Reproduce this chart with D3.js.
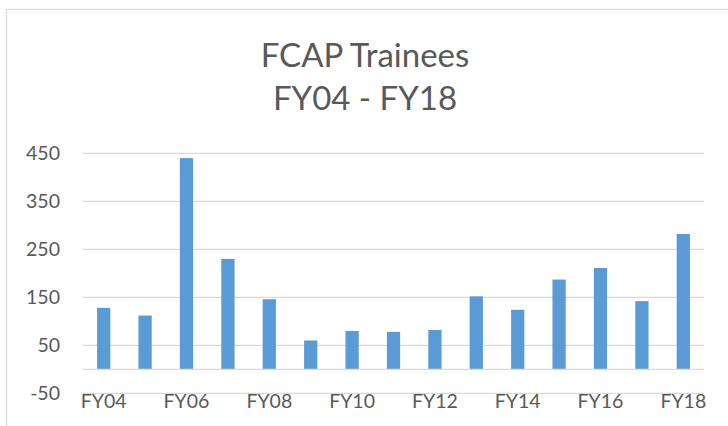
<!DOCTYPE html>
<html lang="en">
<head>
    <meta charset="UTF-8">
    <title>FCAP Trainees</title>
    <script src="https://d3js.org/d3.v7.min.js"></script>
    <style>
        body { margin: 0; background: #fff; }
        svg text { font-family: Lato, "Open Sans", sans-serif; fill: #595959; }
    </style>
</head>
<body>
    <div id="chart"></div>
    <script>
        // data
        const years = ["FY04", "FY05", "FY06", "FY07", "FY08", "FY09", "FY10", "FY11",
                       "FY12", "FY13", "FY14", "FY15", "FY16", "FY17", "FY18"];
        const trainees = [128, 112, 440, 230, 146, 60, 80, 78, 82, 152, 124, 187, 211, 142, 282];
        const yTicks = [-50, 50, 150, 250, 350, 450];
        const titleLines = ["FCAP Trainees", "FY04 - FY18"];

        const width = 728, height = 426;
        const plot = { left: 83, right: 704, top: 153.3, bottom: 393.3 };

        const svg = d3.select("#chart").append("svg")
            .attr("width", width)
            .attr("height", height);

        // chart frame
        svg.append("rect")
            .attr("x", 6.5).attr("y", 9.5)
            .attr("width", width + 10).attr("height", height + 10)
            .attr("fill", "#fff")
            .attr("stroke", "#d9d9d9")
            .attr("stroke-width", 1.3);

        const x = d3.scaleBand()
            .domain(years)
            .range([plot.left, plot.right])
            .paddingInner(0.68)
            .paddingOuter(0.34);

        const y = d3.scaleLinear()
            .domain([-50, 450])
            .range([plot.bottom, plot.top]);

        // gridlines
        svg.append("g")
            .selectAll("line")
            .data(yTicks)
            .join("line")
            .attr("x1", plot.left).attr("x2", plot.right)
            .attr("y1", d => y(d)).attr("y2", d => y(d))
            .attr("stroke", "#d9d9d9")
            .attr("stroke-width", 1.3);

        // y labels
        svg.append("g")
            .selectAll("text")
            .data(yTicks)
            .join("text")
            .attr("x", 60)
            .attr("y", d => y(d))
            .attr("dy", "0.36em")
            .attr("text-anchor", "end")
            .attr("font-size", 19.5)
            .text(d => d);

        // bars
        svg.append("g")
            .attr("fill", "#5b9bd5")
            .selectAll("rect")
            .data(trainees)
            .join("rect")
            .attr("x", (d, i) => x(years[i]))
            .attr("width", x.bandwidth())
            .attr("y", d => y(d))
            .attr("height", d => y(0) - y(d));

        // category axis line at zero
        svg.append("line")
            .attr("x1", plot.left).attr("x2", plot.right)
            .attr("y1", y(0)).attr("y2", y(0))
            .attr("stroke", "#d9d9d9")
            .attr("stroke-width", 1.3);

        // x labels, every other year, placed low
        svg.append("g")
            .selectAll("text")
            .data(years.filter((d, i) => i % 2 === 0))
            .join("text")
            .attr("x", d => x(d) + x.bandwidth() / 2)
            .attr("y", 407.7)
            .attr("text-anchor", "middle")
            .attr("font-size", 19.5)
            .text(d => d);

        // title
        svg.append("g")
            .selectAll("text")
            .data(titleLines)
            .join("text")
            .attr("x", 365)
            .attr("y", (d, i) => i === 0 ? 67 : 109.5)
            .attr("text-anchor", "middle")
            .attr("font-size", 33)
            .text(d => d);
    </script>
</body>
</html>
